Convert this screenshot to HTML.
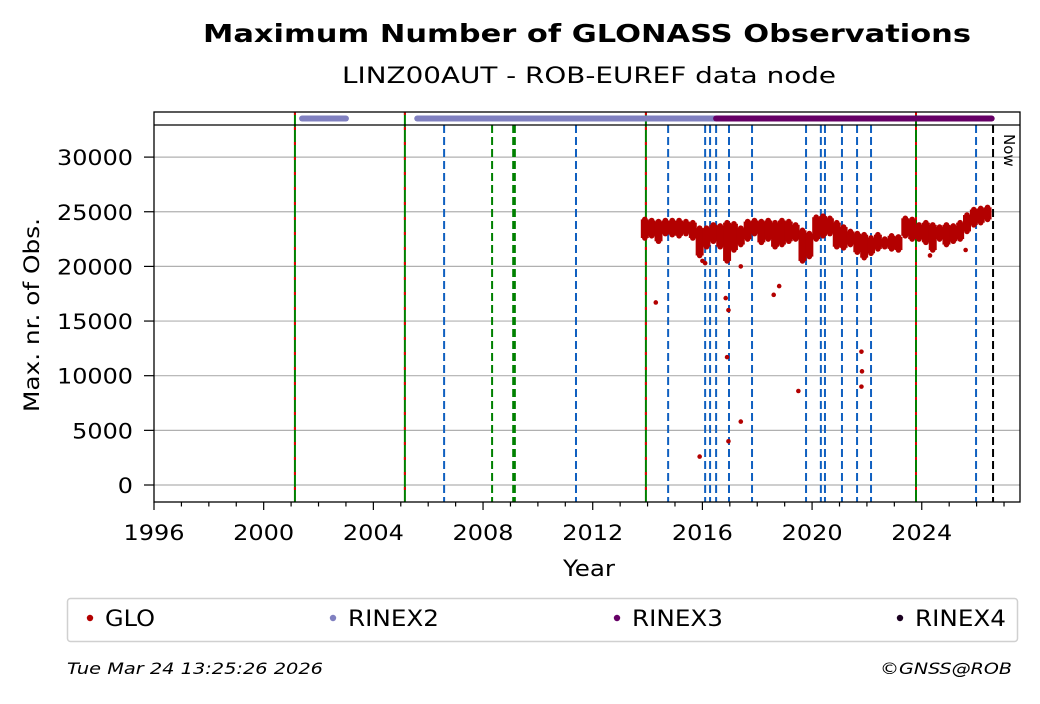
<!DOCTYPE html>
<html><head><meta charset="utf-8"><style>
body{margin:0;background:#fff;}
svg text{font-family:"DejaVu Sans","Liberation Sans",sans-serif;}
</style></head><body>
<svg id="chart" width="1040" height="699" xmlns="http://www.w3.org/2000/svg">
<rect width="1040" height="699" fill="#fff"/>
<text x="203" y="42" font-size="25" font-weight="bold" textLength="768" lengthAdjust="spacingAndGlyphs">Maximum Number of GLONASS Observations</text>
<text x="342" y="83" font-size="22" textLength="494" lengthAdjust="spacingAndGlyphs">LINZ00AUT - ROB-EUREF data node</text>
<g id="grid"></g><g id="vlines"></g><g id="data"></g><g id="strip"></g><g id="axes"></g>
<text transform="translate(39,412) rotate(-90)" font-size="21" textLength="194" lengthAdjust="spacingAndGlyphs">Max. nr. of Obs.</text>
<text x="563" y="576" font-size="22" textLength="52" lengthAdjust="spacingAndGlyphs">Year</text>
<text transform="translate(1004,134) rotate(90)" font-size="15">Now</text>
<g>
<rect x="67.5" y="598.5" width="950" height="43" rx="3" fill="#fff" stroke="#d0d0d0" stroke-width="1.5"/>
<circle cx="90" cy="618" r="3.2" fill="#b30000"/><text x="105" y="626" font-size="22" textLength="50" lengthAdjust="spacingAndGlyphs">GLO</text>
<circle cx="333" cy="618" r="3.2" fill="#8080c0"/><text x="348" y="626" font-size="22" textLength="91" lengthAdjust="spacingAndGlyphs">RINEX2</text>
<circle cx="617" cy="618" r="3.2" fill="#660066"/><text x="632" y="626" font-size="22" textLength="91" lengthAdjust="spacingAndGlyphs">RINEX3</text>
<circle cx="900" cy="618" r="3.2" fill="#1a0020"/><text x="915" y="626" font-size="22" textLength="91" lengthAdjust="spacingAndGlyphs">RINEX4</text>
</g>
<text x="67" y="674" font-size="16" font-style="italic" textLength="256" lengthAdjust="spacingAndGlyphs">Tue Mar 24 13:25:26 2026</text>
<text x="880" y="674" font-size="16" font-style="italic" textLength="132" lengthAdjust="spacingAndGlyphs">©GNSS@ROB</text>
</svg>
<script>
const years=[2013.9,2014.15,2014.4,2014.65,2014.9,2015.15,2015.4,2015.65,2015.9,2016.15,2016.4,2016.65,2016.9,2017.15,2017.4,2017.65,2017.9,2018.15,2018.4,2018.65,2018.9,2019.15,2019.4,2019.65,2019.9,2020.15,2020.4,2020.65,2020.9,2021.15,2021.4,2021.65,2021.9,2022.15,2022.4,2022.65,2022.9,2023.15,2023.4,2023.65,2023.9,2024.15,2024.4,2024.65,2024.9,2025.15,2025.4,2025.65,2025.9,2026.15,2026.4];
const lowVals=[22600,22800,22300,23000,22900,22800,23000,22600,21000,21800,22300,21800,20500,21500,22000,22500,23000,22200,22500,21800,22000,22300,22500,20500,20900,22500,22800,23000,21800,21700,22000,21300,20800,21200,21600,21800,21600,21500,22800,22500,22500,22200,21500,22500,22000,22300,22500,23200,23800,24000,24300];
const highVals=[24300,24200,24100,24200,24200,24200,24100,24000,23500,23500,23800,23700,24000,23900,23500,24100,24200,24100,24200,24000,24200,24100,23800,23300,23000,24500,24600,24400,24000,23600,23200,23000,22900,22600,22900,22500,22800,22700,24400,24300,23800,24000,23800,23600,23800,23700,24000,24700,25200,25300,25400];
const outlierYears=[2014.3,2015.9,2016.0,2016.1,2016.85,2016.95,2016.9,2016.95,2017.4,2017.4,2018.6,2018.8,2019.5,2021.8,2021.82,2021.8,2024.3,2025.6];
const outlierVals=[16700,2600,20500,20300,17100,16000,11700,4000,5800,20000,17400,18200,8600,12200,10400,9000,21000,21500];
const rxLineYears=[2001.14,2005.15,2013.94,2023.79];
const greenLineYears=[2008.33,2009.1,2009.16];
const blueLineYears=[2006.58,2011.39,2014.75,2016.1,2016.28,2016.5,2016.97,2017.81,2019.78,2020.32,2020.47,2021.09,2021.64,2022.15,2025.98];
const nowYear=2026.6;
const rinex2Spans=[[2001.4,2003.0],[2005.6,2016.45]];
const rinex3Spans=[[2016.5,2026.55]];
const yTicks=[0,5000,10000,15000,20000,25000,30000];
const xTicks=[1996,2000,2004,2008,2012,2016,2020,2024];

const NS="http://www.w3.org/2000/svg";
const L=154,R=1020,T=125,B=502;
const X=y=>L+(y-1996)*27.42;
const Y=v=>485-v*0.01093;
function mk(parent,tag,attrs){const e=document.createElementNS(NS,tag);for(const k in attrs)e.setAttribute(k,attrs[k]);document.getElementById(parent).appendChild(e);return e;}

yTicks.forEach(v=>{
 const g=mk('grid','line',{x1:L,x2:R,y1:Y(v),y2:Y(v),stroke:'#b0b0b0','stroke-width':1.2});
 
 
 const t=mk('axes','line',{x1:L-10,x2:L,y1:Y(v),y2:Y(v),stroke:'#000','stroke-width':1.2});
 
 
 const s=String(v);
 const tx=mk('axes','text',{x:133-s.length*15.2,y:Y(v)+8,'font-size':21,textLength:s.length*15.2,lengthAdjust:'spacingAndGlyphs'});tx.textContent=s;
 
 
});
for(let yr=1996;yr<=2027;yr++){
 const major=xTicks.includes(yr);
 const t=mk('axes','line',{x1:X(yr),x2:X(yr),y1:B,y2:B+(major?8:4.5),stroke:'#000','stroke-width':1.2});
 
 
}
xTicks.forEach(yr=>{
 const tx=mk('axes','text',{x:X(yr)-30.5,y:B+38,'font-size':21,textLength:61,lengthAdjust:'spacingAndGlyphs'});tx.textContent=yr;
 
 
});
rxLineYears.forEach(yr=>{
 const a=mk('vlines','line',{x1:X(yr),x2:X(yr),y1:112,y2:B,stroke:'#008000','stroke-width':2});
 
 
 const b=mk('vlines','line',{x1:X(yr),x2:X(yr),y1:112,y2:B,stroke:'#dd0000','stroke-width':2,'stroke-dasharray':'3 12'});
 
 
});
greenLineYears.forEach(yr=>{
 const a=mk('vlines','line',{x1:X(yr),x2:X(yr),y1:125,y2:B,stroke:'#008000','stroke-width':2,'stroke-dasharray':'8 4'});
 
 
});
blueLineYears.forEach(yr=>{
 const a=mk('vlines','line',{x1:X(yr),x2:X(yr),y1:125,y2:B,stroke:'#1060c0','stroke-width':2,'stroke-dasharray':'8 4'});
 
 
});
const nl=mk('vlines','line',{x1:X(nowYear),x2:X(nowYear),y1:125,y2:B,stroke:'#000','stroke-width':2,'stroke-dasharray':'8 4'});



years.forEach((yr,i)=>{
 const x=X(yr),y1=Y(highVals[i]),y2=Y(lowVals[i]);
 const r=mk('data','rect',{x:x-4,y:y1,width:8,height:y2-y1,fill:'#b30000'});
 
 
 [y1,y2].forEach(yy=>{const c=mk('data','circle',{cx:x,cy:yy,r:2.8,fill:'#b30000'});
  
  });
});
outlierYears.forEach((yr,i)=>{
 const c=mk('data','circle',{cx:X(yr),cy:Y(outlierVals[i]),r:2.3,fill:'#b30000'});
 
 
});
rinex2Spans.forEach(s=>{
 const l=mk('strip','line',{x1:X(s[0]),x2:X(s[1]),y1:118.5,y2:118.5,stroke:'#8080c0','stroke-width':6,'stroke-linecap':'round'});
 
 
});
rinex3Spans.forEach(s=>{
 const l=mk('strip','line',{x1:X(s[0]),x2:X(s[1]),y1:118.5,y2:118.5,stroke:'#660066','stroke-width':6,'stroke-linecap':'round'});
 
 
});
const fr=mk('axes','rect',{x:L,y:112,width:R-L,height:B-112,fill:'none',stroke:'#000','stroke-width':1.3});


const sep=mk('axes','line',{x1:L,x2:R,y1:125,y2:125,stroke:'#000','stroke-width':1.3});


</script>
</body></html>
